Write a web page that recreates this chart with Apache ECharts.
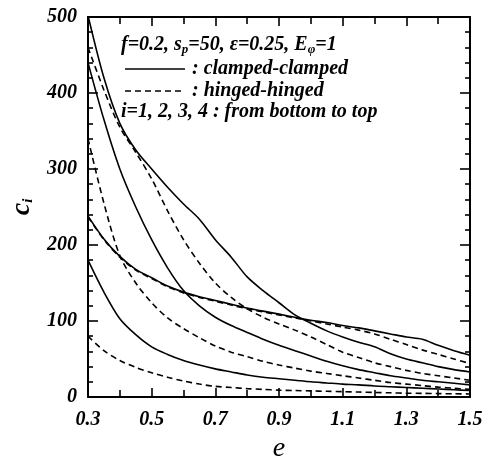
<!DOCTYPE html>
<html>
<head>
<meta charset="utf-8">
<script src="https://cdn.jsdelivr.net/npm/echarts@6/dist/echarts.min.js"></script>
<style>
  html, body { margin: 0; padding: 0; background: #fff; }
  #chart { width: 494px; height: 460px; }
</style>
</head>
<body>
<div id="chart"></div>
<script>
// e grid shared by every curve
const eValues = [0.3, 0.35, 0.4, 0.45, 0.5, 0.55, 0.6, 0.65, 0.7, 0.75, 0.8, 0.85, 0.9,
  0.95, 1.0, 1.05, 1.1, 1.15, 1.2, 1.25, 1.3, 1.35, 1.4, 1.45, 1.5];

// clamped-clamped (solid)
const clampedA = [180, 138, 103, 82, 66, 56, 48, 42, 37, 33, 29, 26, 24, 22, 20, 18.5, 17, 16, 14.5, 13.5, 12.5, 11.5, 10.5, 9.5, 8.5];
const clampedB = [238, 208, 185, 168, 157, 146, 138, 132, 127, 122, 117, 113, 109, 105, 101, 98, 94, 91, 87, 83, 79, 76, 68, 61, 55];
const clampedC = [440, 365, 300, 250, 207, 170, 140, 120, 105, 94, 85, 76, 68, 61, 54, 47, 41, 36, 32, 28, 25, 22, 20, 18, 16];
const clampedD = [502, 420, 360, 325, 300, 276, 254, 234, 207, 184, 158, 140, 124, 108, 97, 87, 79, 72, 66, 57, 50, 45, 40, 36, 33];

// hinged-hinged (dashed)
const hingedA = [80, 61, 48, 39, 32, 26, 21, 17, 14, 12.5, 11, 10, 9, 8.5, 8, 7.5, 7, 6.5, 6, 5.5, 5, 4.8, 4.5, 4.2, 4];
const hingedB = [340, 255, 186, 150, 124, 104, 90, 78, 67, 59, 53, 47, 42, 38, 34, 31, 28, 25, 22, 19, 17, 15, 13, 11.5, 10];
const hingedC = [460, 404, 355, 322, 287, 245, 207, 176, 150, 131, 116, 105, 96, 88, 79, 69, 59, 52, 45, 40, 35, 31, 28, 25, 22];
const hingedD = [237, 207, 184, 167, 156, 145, 137, 131, 126, 121, 116, 112, 108, 104, 100, 96, 92, 88, 83, 76, 69, 62, 56, 50, 44];

const xTicks = [0.3, 1.5, 0.2];
const yTicks = [0, 500, 100];

const FONT = '"Liberation Serif", "Times New Roman", serif';

const chart = echarts.init(document.getElementById('chart'));

function pairs(vals) {
  return eValues.map((e, k) => [e, vals[k]]);
}

function curve(vals, dashed) {
  return {
    type: 'line',
    data: pairs(vals),
    showSymbol: false,
    smooth: 0.3,
    clip: true,
    lineStyle: { color: '#000', width: 1.6, type: dashed ? [6, 4] : 'solid' },
    silent: true
  };
}

const tickLine = { color: '#000', width: 1.6 };

function xAxis(main) {
  return {
    type: 'value',
    position: main ? 'bottom' : 'top',
    min: xTicks[0], max: xTicks[1], interval: xTicks[2],
    axisLine: { onZero: false, lineStyle: { color: '#000', width: 2 } },
    axisTick: { inside: true, length: 9, lineStyle: tickLine },
    minorTick: { show: true, splitNumber: 2, length: 7, lineStyle: tickLine },
    splitLine: { show: false },
    axisLabel: {
      show: main, margin: 13, color: '#000',
      fontFamily: FONT, fontStyle: 'italic', fontWeight: 'bold', fontSize: 20,
      formatter: v => v.toFixed(1)
    },
    name: main ? 'e' : '',
    nameLocation: 'middle', nameGap: 37,
    nameTextStyle: { color: '#000', fontFamily: FONT, fontStyle: 'italic', fontSize: 28 }
  };
}

function yAxis(main) {
  return {
    type: 'value',
    position: main ? 'left' : 'right',
    min: yTicks[0], max: yTicks[1], interval: yTicks[2],
    axisLine: { onZero: false, lineStyle: { color: '#000', width: 2 } },
    axisTick: { inside: true, length: 10, lineStyle: tickLine },
    minorTick: { show: true, splitNumber: 5, length: 5, lineStyle: tickLine },
    splitLine: { show: false },
    axisLabel: {
      show: main, margin: 11, color: '#000',
      fontFamily: FONT, fontStyle: 'italic', fontWeight: 'bold', fontSize: 20
    },
    name: main ? '{c|c}{i|i}' : '',
    nameLocation: 'middle', nameGap: 51,
    nameTextStyle: {
      color: '#000',
      rich: {
        c: { fontFamily: FONT, fontStyle: 'italic', fontWeight: 'bold', fontSize: 28 },
        i: { fontFamily: FONT, fontStyle: 'italic', fontWeight: 'bold', fontSize: 15, padding: [12, 0, 0, 0] }
      }
    }
  };
}

const legendFont = 'italic bold 20px ' + FONT;
const rich = {
  n: { fontFamily: FONT, fontStyle: 'italic', fontWeight: 'bold', fontSize: 20, fill: '#000' },
  s: { fontFamily: FONT, fontStyle: 'italic', fontWeight: 'bold', fontSize: 13, fill: '#000', padding: [9, 0, 0, 0] }
};

chart.setOption({
  animation: false,
  backgroundColor: '#fff',
  grid: { left: 88, right: 24, top: 17, bottom: 63, containLabel: false, outerBoundsMode: 'none' },
  xAxis: [xAxis(true), xAxis(false)],
  yAxis: [yAxis(true), yAxis(false)],
  series: [
    curve(clampedA, false), curve(clampedB, false), curve(clampedC, false), curve(clampedD, false),
    curve(hingedA, true), curve(hingedB, true), curve(hingedC, true), curve(hingedD, true)
  ],
  graphic: [
    {
      type: 'text', x: 121, y: 45,
      style: {
        text: '{n|f=0.2, s}{s|p}{n|=50, ε=0.25, E}{s|φ}{n|=1}',
        rich: rich, verticalAlign: 'middle', fill: '#000'
      }
    },
    { type: 'line', shape: { x1: 125, y1: 69, x2: 185, y2: 69 }, style: { stroke: '#000', lineWidth: 1.6 } },
    { type: 'text', x: 192, y: 69, style: { text: ': clamped-clamped', font: legendFont, fill: '#000', verticalAlign: 'middle' } },
    { type: 'line', shape: { x1: 125, y1: 91, x2: 185, y2: 91 }, style: { stroke: '#000', lineWidth: 1.6, lineDash: [6, 4] } },
    { type: 'text', x: 192, y: 91, style: { text: ': hinged-hinged', font: legendFont, fill: '#000', verticalAlign: 'middle' } },
    { type: 'text', x: 121, y: 112, style: { text: 'i=1, 2, 3, 4 : from bottom to top', font: legendFont, fill: '#000', verticalAlign: 'middle' } }
  ]
});
</script>
</body>
</html>
